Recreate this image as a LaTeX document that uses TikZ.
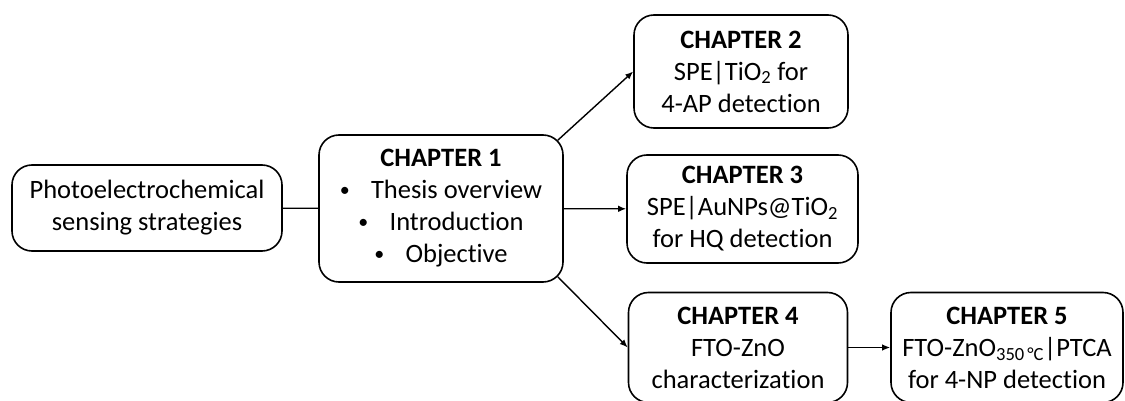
\documentclass[tikz,border=0pt]{standalone}
\usepackage{fontspec}
\setmainfont{Carlito}[Ligatures=NoCommon]
\usetikzlibrary{arrows.meta,calc}

\newcommand{\dotitem}{\raisebox{2pt}{\fontsize{20}{20}\selectfont\textbullet}\hspace{0.8em}}

\begin{document}
\begin{tikzpicture}[x=1pt, y=-1pt,
    box/.style={draw, rectangle, rounded corners=20pt, line width=1.6pt, align=center,
        inner sep=0pt, font=\fontsize{26.5}{32}\selectfont},
    link/.style={line width=1.4pt},
    arrow/.style={link, -{Latex[length=8pt,width=6.5pt]}}]
    \useasboundingbox (0,0) rectangle (1125,401);

    % Strategies
    \node[box, minimum width=270pt, minimum height=86pt] (strategies) at (147,208)
        {Photoelectrochemical\\sensing strategies};

    % Chapter 1
    \node[box, minimum width=244pt, minimum height=147pt] (ch1) at (441,208.5)
        {\textbf{CHAPTER 1}\\
         \dotitem Thesis overview\\
         \dotitem Introduction\\
         \dotitem Objective};

    % Chapters 2-4
    \node[box, minimum width=214pt, minimum height=113pt] (ch2) at (741,71.5)
        {\textbf{CHAPTER 2}\\SPE|TiO\textsubscript{2} for\\4-AP detection};
    \node[box, minimum width=231pt, minimum height=108pt] (ch3) at (742.5,209)
        {\textbf{CHAPTER 3}\\SPE|AuNPs@TiO\textsubscript{2}\\for HQ detection};
    \node[box, minimum width=219pt, minimum height=110pt] (ch4) at (738,347.5)
        {\textbf{CHAPTER 4}\\FTO-ZnO\\characterization};

    % Chapter 5
    \node[box, minimum width=232pt, minimum height=110pt] (ch5) at (1007,347.5)
        {\textbf{CHAPTER 5}\\FTO-ZnO\textsubscript{350\,°C}|PTCA\\for 4-NP detection};

    % Links
    \draw[link] (strategies) -- (ch1);
    \draw[arrow] ($(ch1.north east)+(-6,6)$) -- (ch2.west);
    \draw[arrow] (ch1) -- (ch3);
    \draw[arrow] ($(ch1.south east)+(-6,-6)$) -- (ch4.west);
    \draw[arrow] (ch4) -- (ch5);
\end{tikzpicture}
\end{document}
